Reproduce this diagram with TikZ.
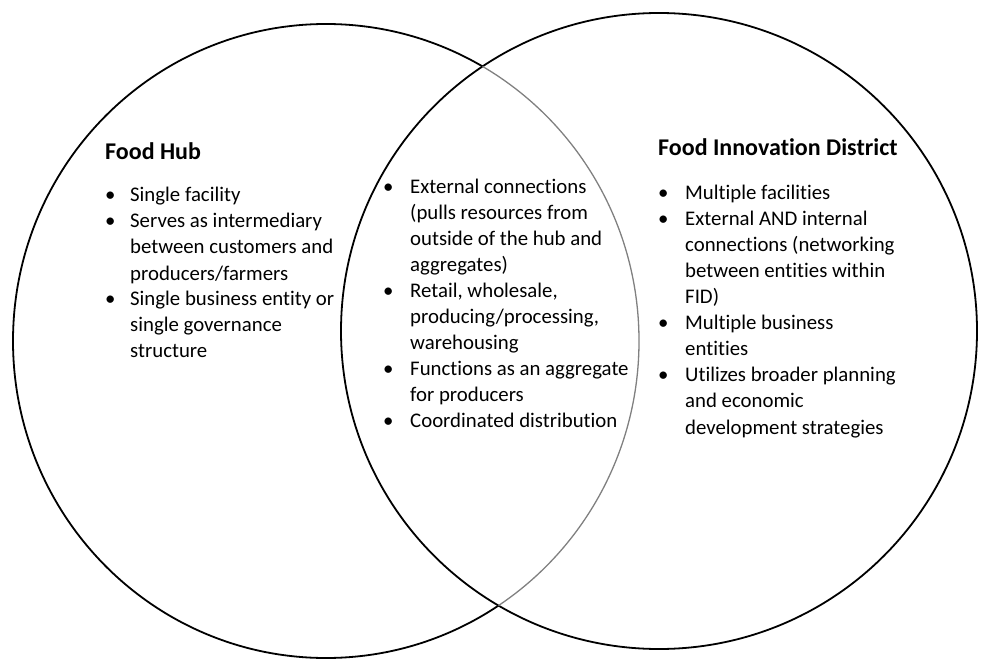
\documentclass[tikz,border=0pt]{standalone}
\usepackage{fontspec}
\setmainfont{Carlito}[Ligatures=NoCommon]
\usepackage{array}
\begin{document}
\begin{tikzpicture}[x=1pt,y=-1pt,
  txt/.style={inner sep=0pt, anchor=base west, font=\fontsize{20.8}{26}\selectfont},
  ttl/.style={inner sep=0pt, anchor=base west, font=\fontsize{24}{28}\selectfont\bfseries},
  ring/.style={line width=1.8pt, black}]
\useasboundingbox (0,0) rectangle (984,660);
% right ellipse
\draw[ring] (659,331) ellipse [x radius=318pt, y radius=318pt];
% left ellipse, outside the right one: black
\begin{scope}[even odd rule]
\clip (-10,-10) rectangle (994,670) (659,331) ellipse [x radius=318pt, y radius=318pt];
\draw[ring] (326,341) ellipse [x radius=313pt, y radius=317pt];
\end{scope}
% left ellipse, inside the right one: gray
\begin{scope}
\clip (659,331) ellipse [x radius=318pt, y radius=318pt];
\draw[line width=1.3pt, gray] (326,341) ellipse [x radius=313pt, y radius=317pt];
\end{scope}

\node[ttl] (t1) at (105,160) {Food Hub};
\node[txt] (b1) at (105,202) {\begin{tabular}[t]{@{}p{25pt}@{}l@{}}
\textbullet & Single facility\\
\textbullet & Serves as intermediary\\
 & between customers and\\
 & producers/farmers\\
\textbullet & Single business entity or\\
 & single governance\\
 & structure
\end{tabular}};

\node[txt] (b2) at (383,193.5) {\begin{tabular}[t]{@{}p{27pt}@{}l@{}}
\textbullet & External connections\\
 & (pulls resources from\\
 & outside of the hub and\\
 & aggregates)\\
\textbullet & Retail, wholesale,\\
 & producing/processing,\\
 & warehousing\\
\textbullet & Functions as an aggregate\\
 & for producers\\
\textbullet & Coordinated distribution
\end{tabular}};

\node[ttl] (t3) at (658,156) {Food Innovation District};
\node[txt] (b3) at (658,200) {\begin{tabular}[t]{@{}p{27pt}@{}l@{}}
\textbullet & Multiple facilities\\
\textbullet & External AND internal\\
 & connections (networking\\
 & between entities within\\
 & FID)\\
\textbullet & Multiple business\\
 & entities\\
\textbullet & Utilizes broader planning\\
 & and economic\\
 & development strategies
\end{tabular}};
\end{tikzpicture}
\end{document}
